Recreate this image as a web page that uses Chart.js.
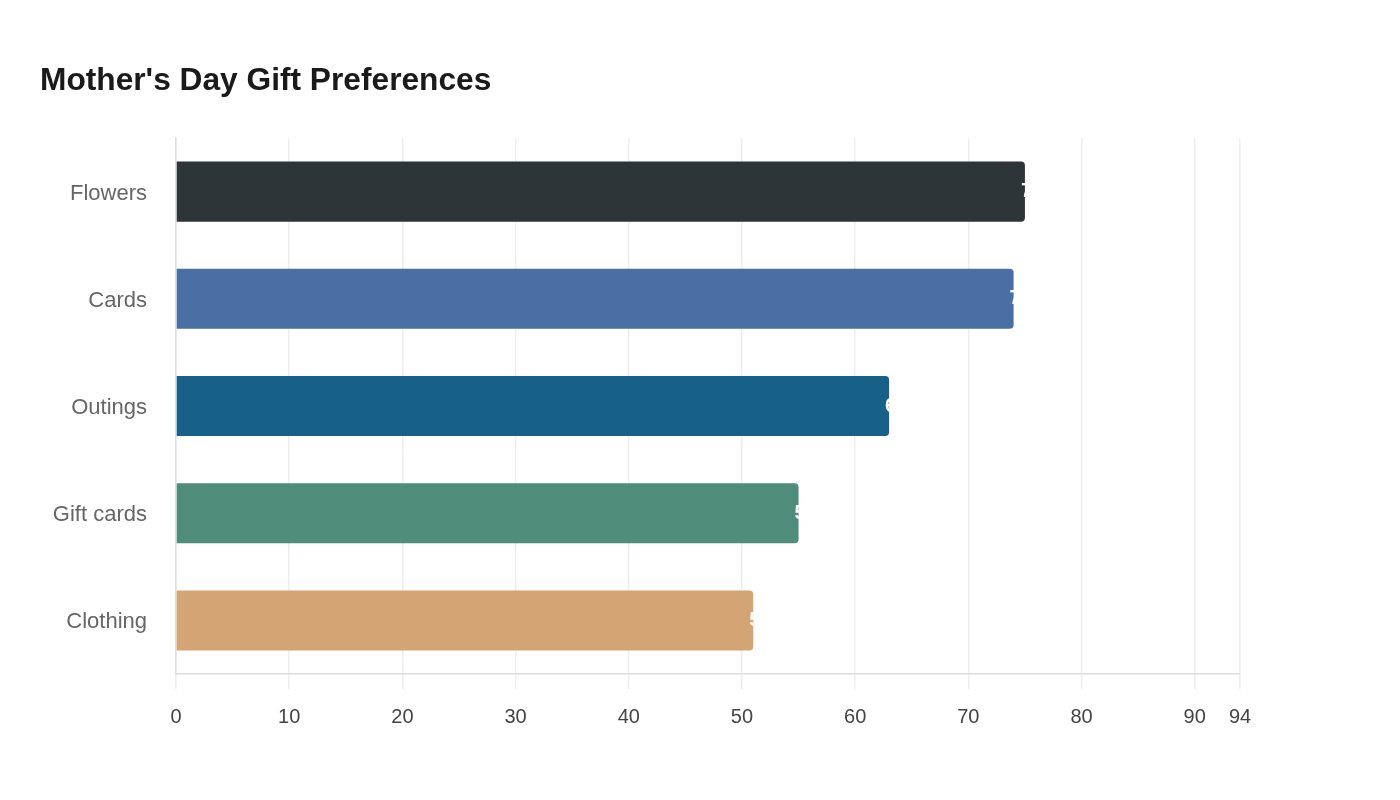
<!DOCTYPE html>
<html>
<head>
<meta charset="utf-8">
<script src="https://cdn.jsdelivr.net/npm/chart.js@4"></script>
<style>
  html, body { margin: 0; padding: 0; background: #fff; }
  #wrap { width: 1400px; height: 800px; }
</style>
</head>
<body>
<div id="wrap"><canvas id="chart" width="1400" height="800"></canvas></div>
<script>
const categories = ['Flowers', 'Cards', 'Outings', 'Gift cards', 'Clothing'];
const shares = [75, 74, 63, 55, 51];
const barColors = ['#2e3538', '#4a6fa5', '#176087', '#4f8c7a', '#d3a574'];
const tickValues = [0, 10, 20, 30, 40, 50, 60, 70, 80, 90, 94];

// white value labels drawn just inside the end of each bar
const endLabels = {
    id: 'endLabels',
    afterDatasetsDraw(chart) {
        const ctx = chart.ctx;
        const meta = chart.getDatasetMeta(0);
        ctx.save();
        ctx.font = 'bold 20px "Liberation Sans", Arial, sans-serif';
        ctx.fillStyle = '#ffffff';
        ctx.textAlign = 'left';
        ctx.textBaseline = 'middle';
        meta.data.forEach((bar, i) => {
            ctx.fillText(String(shares[i]), bar.x - 4, bar.y);
        });
        ctx.restore();
    }
};

new Chart(document.getElementById('chart').getContext('2d'), {
    type: 'bar',
    data: {
        labels: categories,
        datasets: [{
            data: shares,
            backgroundColor: barColors,
            borderRadius: 4,
            borderSkipped: 'start',
            barPercentage: 0.56,
            categoryPercentage: 1
        }]
    },
    options: {
        indexAxis: 'y',
        responsive: false,
        animation: false,
        layout: { padding: { left: 40, right: 160, top: 62, bottom: 55 } },
        plugins: {
            legend: { display: false },
            tooltip: { enabled: false },
            title: {
                display: true,
                text: "Mother's Day Gift Preferences",
                align: 'start',
                color: '#1a1a1a',
                font: { family: '"Liberation Sans", Arial, sans-serif', size: 31.7, weight: 'bold' },
                padding: { top: 0, bottom: 38 }
            }
        },
        scales: {
            x: {
                min: 0,
                max: 94,
                afterBuildTicks(axis) {
                    axis.ticks = tickValues.map(v => ({ value: v }));
                },
                grid: { color: '#eeeeee', lineWidth: 1.5, tickLength: 15, drawTicks: true },
                border: { color: '#dddddd', width: 1.5 },
                ticks: {
                    color: '#444444',
                    padding: 16,
                    maxRotation: 0,
                    autoSkip: false,
                    font: { family: '"Liberation Sans", Arial, sans-serif', size: 20 }
                }
            },
            y: {
                afterFit(axis) { axis.width = 136; },
                grid: { display: false },
                border: { color: '#dddddd', width: 1.5 },
                ticks: {
                    color: '#666666',
                    padding: 21,
                    labelOffset: 2,
                    font: { family: '"Liberation Sans", Arial, sans-serif', size: 22 }
                }
            }
        }
    },
    plugins: [endLabels]
});
</script>
</body>
</html>
